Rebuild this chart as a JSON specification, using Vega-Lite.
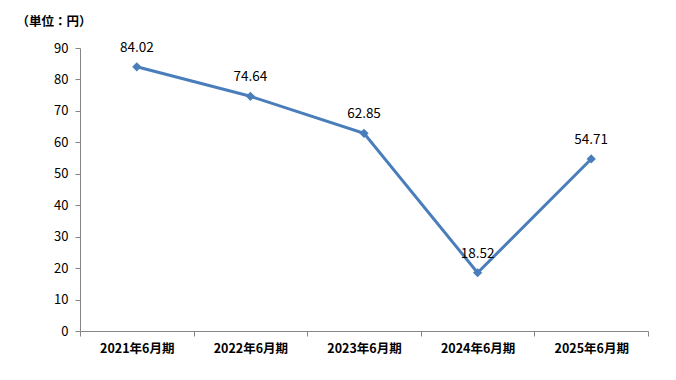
{
  "$schema": "https://vega.github.io/schema/vega-lite/v6.json",
  "autosize": "none",
  "width": 568,
  "height": 283,
  "padding": {"left": 80, "top": 48, "right": 28, "bottom": 49},
  "background": "white",
  "config": {"view": {"stroke": null}, "font": "Noto Sans CJK JP"},
  "data": {"values": [
    {"period": "2021年6月期", "value": 84.02},
    {"period": "2022年6月期", "value": 74.64},
    {"period": "2023年6月期", "value": 62.85},
    {"period": "2024年6月期", "value": 18.52},
    {"period": "2025年6月期", "value": 54.71}
  ]},
  "encoding": {
    "x": {"field": "period", "type": "nominal", "sort": null, "bandPosition": 0.5,
      "scale": {"type": "band", "paddingInner": 0, "paddingOuter": 0},
      "axis": {"title": null, "labelAngle": 0, "tickBand": "extent", "domainColor": "#868686", "tickColor": "#868686", "tickSize": 5, "labelFontSize": 12.5, "labelFontWeight": "bold", "labelColor": "#000000", "labelPadding": 6, "labelFont": "Noto Sans CJK JP"}},
    "y": {"field": "value", "type": "quantitative",
      "scale": {"domain": [0, 90], "nice": false},
      "axis": {"values": [0,10,20,30,40,50,60,70,80,90], "grid": false, "domainColor": "#868686", "tickColor": "#868686", "tickSize": 5, "labelFontSize": 13, "labelColor": "#000000", "labelPadding": 7, "labelFont": "Noto Sans CJK JP",
        "title": "（単位：円）", "titleAngle": 0, "titleX": -64, "titleY": -27, "titleAlign": "left", "titleBaseline": "middle", "titleFontSize": 12.5, "titleFontWeight": "bold", "titleColor": "#000000"}}
  },
  "layer": [
    {"mark": {"type": "line", "color": "#4A7EBB", "strokeWidth": 3}},
    {"mark": {"type": "point", "shape": "diamond", "filled": true, "size": 85, "color": "#4A7EBB", "opacity": 1}},
    {"mark": {"type": "text", "dy": -19, "fontSize": 13.5, "color": "#000000", "font": "Noto Sans CJK JP"},
      "encoding": {"text": {"field": "value", "type": "quantitative", "format": ".2f"}}}
  ]
}
